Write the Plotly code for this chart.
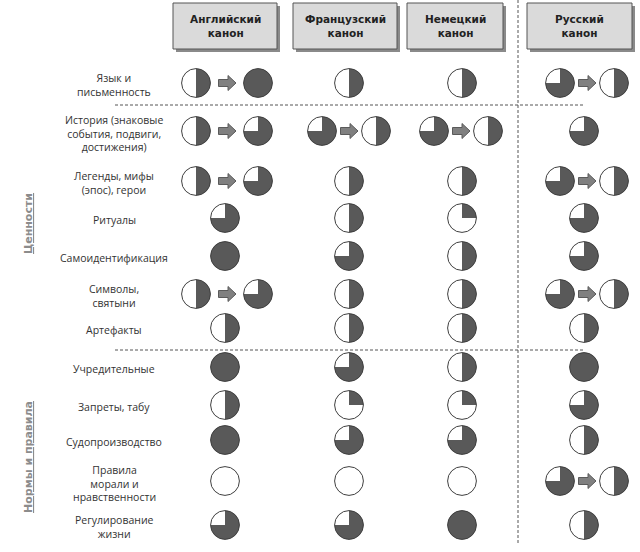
import math
import plotly.graph_objects as go

# ---------------- data ----------------
row_labels = [
    "Язык и\nписьменность",
    "История (знаковые\nсобытия, подвиги,\nдостижения)",
    "Легенды, мифы\n(эпос), герои",
    "Ритуалы",
    "Самоидентификация",
    "Символы,\nсвятыни",
    "Артефакты",
    "Учредительные",
    "Запреты, табу",
    "Судопроизводство",
    "Правила\nморали и\nнравственности",
    "Регулирование\nжизни",
]
canon_labels = ["Английский\nканон", "Французский\nканон", "Немецкий\nканон", "Русский\nканон"]
group_labels = ["Ценности", "Нормы и правила"]

# degree of presence, % (before -> after; None = no change)
eng_before = [50, 50, 50, 75, 100, 50, 50, 100, 50, 100, 0, 75]
eng_after = [100, 75, 75, None, None, 75, None, None, None, None, None, None]
fra_before = [50, 75, 50, 50, 75, 50, 50, 75, 25, 75, 0, 75]
fra_after = [None, 50, None, None, None, None, None, None, None, None, None, None]
deu_before = [50, 75, 50, 25, 50, 50, 50, 50, 25, 75, 0, 100]
deu_after = [None, 50, None, None, None, None, None, None, None, None, None, None]
rus_before = [75, 75, 75, 75, 75, 75, 50, 100, 75, 50, 75, 50]
rus_after = [50, None, 50, None, None, 50, None, None, None, None, 50, None]

before = [eng_before, fra_before, deu_before, rus_before]
after = [eng_after, fra_after, deu_after, rus_after]

# ---------------- layout (pixel axes) ----------------
W, H = 640, 552
row_y = [83, 131, 181, 218, 256, 294, 328, 367, 405, 440, 481, 525]
col_single_x = [225, 349, 462, 584]
col_pair_x = [227, 349, 461, 587]
pair_off = [31, 27, 27, 27]
box_x = [(173, 277), (293, 397), (407, 503), (527, 632)]
box_y = (3, 49)
label_x = 114
R = 14.4
DARK = "#595959"
EDGE = "#3f3f3f"

shapes = []
annotations = []


def ball(cx, cy, pct):
    shapes.append(dict(type="circle", xref="x", yref="y", x0=cx - R, x1=cx + R,
                       y0=cy - R, y1=cy + R, fillcolor="white", line=dict(width=0)))
    if pct >= 100:
        shapes.append(dict(type="circle", xref="x", yref="y", x0=cx - R, x1=cx + R,
                           y0=cy - R, y1=cy + R, fillcolor=DARK, line=dict(width=0)))
    elif pct > 0:
        n = max(4, int(72 * pct / 100))
        ang = [2 * math.pi * pct / 100 * i / n for i in range(n + 1)]
        pts = [f"L{cx + R * math.sin(a):.2f},{cy - R * math.cos(a):.2f}" for a in ang]
        path = f"M{cx},{cy} " + " ".join(pts) + " Z"
        shapes.append(dict(type="path", xref="x", yref="y", path=path,
                           fillcolor=DARK, line=dict(width=0)))
    shapes.append(dict(type="circle", xref="x", yref="y", x0=cx - R, x1=cx + R,
                       y0=cy - R, y1=cy + R, fillcolor="rgba(0,0,0,0)",
                       line=dict(color=EDGE, width=1)))


def arrow(cx, cy):
    rel = [(-8.5, -3.5), (1, -3.5), (1, -7.5), (9, 0), (1, 7.5), (1, 3.5), (-8.5, 3.5)]
    path = "M" + " L".join(f"{cx + dx},{cy + dy}" for dx, dy in rel) + " Z"
    shapes.append(dict(type="path", xref="x", yref="y", path=path,
                       fillcolor="#808080", line=dict(color="#5a5a5a", width=1)))


# dashed separators
shapes.append(dict(type="line", xref="x", yref="y", x0=518, x1=518, y0=0, y1=545,
                   line=dict(color="#555", width=1, dash="3px,2px")))
for yy in (105, 350):
    shapes.append(dict(type="line", xref="x", yref="y", x0=115, x1=585, y0=yy, y1=yy,
                       line=dict(color="#555", width=1, dash="3px,2px")))

# header boxes
for (x0, x1), txt in zip(box_x, canon_labels):
    shapes.append(dict(type="rect", xref="x", yref="y", x0=x0 + 3, x1=x1 + 3,
                       y0=box_y[0] + 3, y1=box_y[1] + 3, fillcolor="#8a8a8a",
                       line=dict(width=0)))
    shapes.append(dict(type="rect", xref="x", yref="y", x0=x0, x1=x1,
                       y0=box_y[0], y1=box_y[1], fillcolor="#dadada",
                       line=dict(color="#555", width=1)))
    annotations.append(dict(x=(x0 + x1) / 2, y=(box_y[0] + box_y[1]) / 2, xref="x", yref="y",
                            text="<b>" + txt.replace("\n", "<br>") + "</b>", showarrow=False,
                            font=dict(family="DejaVu Sans", size=10.5, color="#222"),
                            align="center"))

# row labels
for lab, yy in zip(row_labels, row_y):
    annotations.append(dict(x=label_x, y=yy + 2, xref="x", yref="y",
                            text=lab.replace("\n", "<br>"), showarrow=False,
                            font=dict(family="Open Sans", size=10.5, color="#333"),
                            align="center", xanchor="center", yanchor="middle"))

# group labels
for g, yc in zip(group_labels, [224, 457]):
    annotations.append(dict(x=28, y=yc, xref="x", yref="y", text=f"<u><b>{g}</b></u>",
                            showarrow=False, textangle=-90,
                            font=dict(family="DejaVu Sans", size=11, color="#8c8c8c")))

# balls
for c in range(4):
    for r in range(len(row_labels)):
        b = before[c][r]
        a = after[c][r]
        yy = row_y[r]
        if a is None:
            ball(col_single_x[c], yy, b)
        else:
            ball(col_pair_x[c] - pair_off[c], yy, b)
            arrow(col_pair_x[c], yy)
            ball(col_pair_x[c] + pair_off[c], yy, a)

fig = go.Figure()
fig.add_trace(go.Scatter(x=[0, W], y=[0, H], mode="markers",
                         marker=dict(opacity=0), hoverinfo="skip", showlegend=False))
fig.update_layout(
    width=W, height=H, autosize=False,
    margin=dict(l=0, r=0, t=0, b=0),
    paper_bgcolor="white", plot_bgcolor="white",
    xaxis=dict(range=[0, W], visible=False, fixedrange=True),
    yaxis=dict(range=[H, 0], visible=False, fixedrange=True),
    shapes=shapes, annotations=annotations, showlegend=False,
)
fig.write_html(
    "out.html",
    config={"displayModeBar": False},
    post_script="document.body.style.margin='0';document.body.style.overflow='hidden';",
)
